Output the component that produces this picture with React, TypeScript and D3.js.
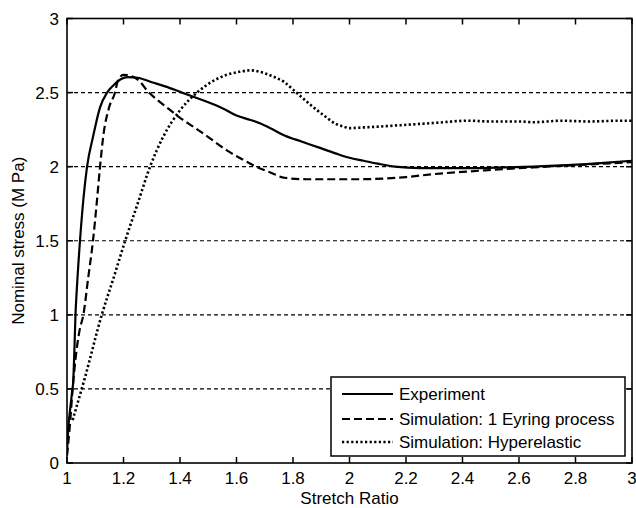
import React from "react";
import * as d3 from "d3";

const W = 636;
const H = 508;

const xTicks = [1, 1.2, 1.4, 1.6, 1.8, 2, 2.2, 2.4, 2.6, 2.8, 3];
const yTicks = [0, 0.5, 1, 1.5, 2, 2.5, 3];
const gridLevels = [0.5, 1, 1.5, 2, 2.5];

const expX = [1.0, 1.005, 1.011, 1.018, 1.022, 1.026, 1.03, 1.035, 1.046, 1.058, 1.071, 1.092, 1.117, 1.142, 1.165, 1.19, 1.215, 1.25, 1.3, 1.35, 1.4, 1.45, 1.5, 1.55, 1.6, 1.65, 1.68, 1.72, 1.77, 1.83, 1.89, 1.95, 2.0, 2.05, 2.1, 2.16, 2.25, 2.35, 2.45, 2.55, 2.65, 2.77, 2.9, 3.0];
const expY = [0.07, 0.25, 0.36, 0.48, 0.55, 0.75, 1.0, 1.18, 1.5, 1.78, 2.0, 2.2, 2.4, 2.5, 2.55, 2.59, 2.605, 2.6, 2.57, 2.54, 2.505, 2.47, 2.435, 2.395, 2.345, 2.315, 2.295, 2.26, 2.21, 2.17, 2.13, 2.09, 2.06, 2.04, 2.02, 2.0, 1.99, 1.99, 1.99, 1.995, 2.0, 2.01, 2.025, 2.04];

const eyrX = [1.0, 1.01, 1.02, 1.03, 1.045, 1.058, 1.075, 1.092, 1.105, 1.117, 1.128, 1.149, 1.17, 1.18, 1.2, 1.23, 1.26, 1.283, 1.32, 1.36, 1.4, 1.447, 1.5, 1.566, 1.62, 1.67, 1.72, 1.77, 1.85, 1.94, 2.03, 2.12, 2.2, 2.3, 2.4, 2.48, 2.56, 2.65, 2.75, 2.85, 3.0];
const eyrY = [0.05, 0.25, 0.5, 0.7, 0.9, 1.0, 1.25, 1.5, 1.75, 2.0, 2.2, 2.4, 2.5, 2.58, 2.62, 2.61, 2.57, 2.515, 2.45, 2.39, 2.33, 2.27, 2.2, 2.11, 2.05, 2.0, 1.96, 1.925, 1.915, 1.915, 1.915, 1.92, 1.93, 1.95, 1.965, 1.975, 1.985, 1.995, 2.005, 2.015, 2.03];

const hypX = [1.02, 1.064, 1.123, 1.165, 1.206, 1.25, 1.294, 1.34, 1.4, 1.46, 1.51, 1.566, 1.61, 1.65, 1.7, 1.74, 1.77, 1.8, 1.83, 1.86, 1.886, 1.92, 1.95, 1.98, 2.0, 2.05, 2.1, 2.18, 2.3, 2.42, 2.5, 2.6, 2.65, 2.75, 2.85, 2.95, 3.0];
const hypY = [0.29, 0.58, 1.0, 1.25, 1.5, 1.75, 2.0, 2.2, 2.38, 2.5, 2.57, 2.62, 2.64, 2.65, 2.63, 2.6, 2.57, 2.52, 2.47, 2.42, 2.38, 2.33, 2.29, 2.27, 2.26, 2.265, 2.27, 2.28, 2.295, 2.31, 2.305, 2.305, 2.3, 2.31, 2.305, 2.31, 2.31];

const seriesNames = ["Experiment", "Simulation: 1 Eyring process", "Simulation: Hyperelastic"];
const seriesDash = ["none", "8,4", "2.2,2.4"];

const FONT = "Arial, 'Liberation Sans', Helvetica, sans-serif";

export default function App() {
  const left = 67, right = 632, top = 18.5, bottom = 463;
  const x = d3.scaleLinear().domain([1, 3]).range([left, right]);
  const y = d3.scaleLinear().domain([0, 3]).range([bottom, top]);

  const line = d3
    .line<[number, number]>()
    .x((d) => x(d[0]))
    .y((d) => y(d[1]))
    .curve(d3.curveMonotoneX);

  const series = [
    expX.map((v, i) => [v, expY[i]] as [number, number]),
    eyrX.map((v, i) => [v, eyrY[i]] as [number, number]),
    hypX.map((v, i) => [v, hypY[i]] as [number, number]),
  ];
  const widths = [2.2, 2.2, 2.6];

  const lg = { x0: 331, y0: 377, x1: 625, y1: 456 };
  const rowsY = [394, 419, 442];

  return (
    <svg width={W} height={H} style={{ position: "absolute", left: 0, top: 0, background: "#fff" }} fontFamily={FONT}>
      <rect x={0} y={0} width={W} height={H} fill="#fff" />
      <defs>
        <clipPath id="plotclip">
          <rect x={left} y={top} width={right - left} height={bottom - top} />
        </clipPath>
      </defs>
      {gridLevels.map((g) => (
        <line key={g} x1={left} x2={right} y1={y(g)} y2={y(g)} stroke="#000" strokeWidth={1.2} strokeDasharray="4,3" />
      ))}
      <g clipPath="url(#plotclip)">
        {series.map((s, i) => (
          <path key={i} d={line(s) || ""} fill="none" stroke="#000" strokeWidth={widths[i]} strokeDasharray={seriesDash[i]} strokeLinecap="butt" strokeLinejoin="round" />
        ))}
      </g>
      {xTicks.map((t) => (
        <g key={"xt" + t}>
          <line x1={x(t)} x2={x(t)} y1={bottom} y2={bottom - 6} stroke="#000" strokeWidth={1.5} />
          <line x1={x(t)} x2={x(t)} y1={top} y2={top + 6} stroke="#000" strokeWidth={1.5} />
          <text x={x(t)} y={484} fontSize={17} textAnchor="middle" fill="#000">{t}</text>
        </g>
      ))}
      {yTicks.map((t) => (
        <g key={"yt" + t}>
          <line x1={left} x2={left + 6} y1={y(t)} y2={y(t)} stroke="#000" strokeWidth={1.5} />
          <line x1={right} x2={right - 6} y1={y(t)} y2={y(t)} stroke="#000" strokeWidth={1.5} />
          <text x={59} y={y(t)} dy="0.36em" fontSize={17} textAnchor="end" fill="#000">{t}</text>
        </g>
      ))}
      <rect x={left} y={top} width={right - left} height={bottom - top} fill="none" stroke="#000" strokeWidth={1.6} />
      <text x={(left + right) / 2} y={504} fontSize={17} textAnchor="middle" fill="#000">Stretch Ratio</text>
      <text transform={`translate(24,${(top + bottom) / 2}) rotate(-90)`} fontSize={17} textAnchor="middle" fill="#000">Nominal stress (M Pa)</text>
      <rect x={lg.x0} y={lg.y0} width={lg.x1 - lg.x0} height={lg.y1 - lg.y0} fill="#fff" stroke="#000" strokeWidth={1.5} />
      {seriesNames.map((n, i) => (
        <g key={n}>
          <line x1={342} x2={393} y1={rowsY[i]} y2={rowsY[i]} stroke="#000" strokeWidth={widths[i]} strokeDasharray={seriesDash[i]} />
          <text x={399} y={rowsY[i]} dy="0.36em" fontSize={17} fill="#000">{n}</text>
        </g>
      ))}
    </svg>
  );
}
